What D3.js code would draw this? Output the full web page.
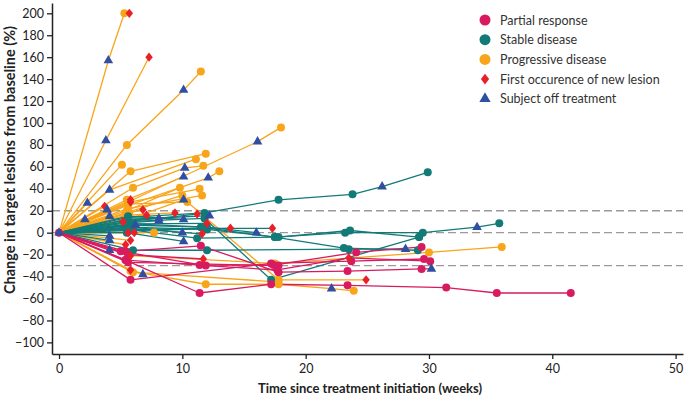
<!DOCTYPE html>
<html>
<head>
<meta charset="utf-8">
<script src="https://cdn.jsdelivr.net/npm/d3@7"></script>
<style>
  html, body { margin: 0; padding: 0; background: #fff; }
  svg { display: block; }
</style>
</head>
<body>
<svg id="chart" width="685" height="400"></svg>
<script>
// ---------------- DATA ----------------
const xTicks = [0, 10, 20, 30, 40, 50];
const yTicks = [-100, -80, -60, -40, -20, 0, 20, 40, 60, 80, 100, 120, 140, 160, 180, 200];
const refLines = [20, 0, -30];

const legendLabels = ["Partial response", "Stable disease", "Progressive disease", "First occurence of new lesion", "Subject off treatment"];

// response per patient: PR = partial response, SD = stable disease, PD = progressive disease
const response = [
  "PD","PD","PD","PD","PD","PD","PD","PD","PD","PD",
  "PD","PD","PD","PD","PD","PD","PD","PD","PD","PD",
  "PD","PD","PD","PD","PD","PD","PD","PD","PD","PD",
  "PD","PD","PD","PD",
  "SD","SD","SD","SD","SD","SD","SD","SD","SD","SD",
  "SD","SD","SD","SD","SD","SD","SD","SD","SD","SD","SD",
  "PR","PR","PR","PR","PR","PR","PR","PR"
];

// weeks since treatment initiation per patient
const weeks = [
  [0,4.0,5.3,5.7],
  [0,3.8,7.3],
  [0,5.5,10.1,11.5],
  [0,5.1],
  [0,5.8,11.9],
  [0,4.1,11.1],
  [0,6.0,10.2,11.7],
  [0,5.5,10.1],
  [0,5.6,12.1,13.0],
  [0,5.5,9.8],
  [0,5.4,10.0],
  [0,5.8,11.4],
  [0,5.6,11.6],
  [0,5.6,16.1,18.0],
  [0,5.5,10.1],
  [0,5.6,10.4,17.8,24.9],
  [0,5.8,11.9,17.8,22.1,23.9],
  [0,5.8,17.5,30.0,35.9],
  [0,7.7],
  [0,3.7],
  [0,5.8],
  [0,5.7,6.8],
  [0,5.5,7.1],
  [0,5.5,9.4],
  [0,2.3],
  [0,2.1],
  [0,3.9],
  [0,4.1,5.2],
  [0,5.8,6.8],
  [0,6.0,17.8],
  [0,5.8],
  [0,5.4],
  [0,5.6],
  [0,6.1],
  // SD
  [0,5.6,11.8,17.8,23.8,26.2,29.9],
  [0,5.5,12.0,17.5,23.2,29.5,33.9,35.7],
  [0,5.5,11.8,17.2,29.2],
  [0,5.6,11.5,17.5,23.1,29.1],
  [0,6.0,12.0,23.5,28.1],
  [0,5.5,11.2,17.8,23.6,29.2],
  [0,6.0,12.0,16.0],
  [0,5.6,10.1],
  [0,5.6,12.2],
  [0,6.0,10.0],
  [0,5.5,11.2],
  [0,5.8,12.0],
  [0,6.2],
  [0,5.5,10.1],
  [0,5.8,13.9],
  [0,5.5,8.1],
  [0,5.6,11.6],
  [0,6.0,11.8,17.3],
  [0,4.1],
  [0,4.1],
  [0,5.5,8.1],
  // PR
  [0,5.4,11.4,17.2,23.4,31.4,35.5,41.5],
  [0,5.8,17.2,23.7,29.6],
  [0,5.4,11.5,17.8,23.4,29.4,30.2],
  [0,5.4,11.4,17.4,24.1,29.4],
  [0,5.0,11.9,17.7,23.5,30.1],
  [0,5.6,11.7],
  [0,4.1],
  [0,5.6,17.8]
];

// % change in target lesions from baseline per patient
const change = [
  [0,157,200,200],
  [0,84,160],
  [0,80,130,147],
  [0,62],
  [0,56,72],
  [0,39,67],
  [0,41,59,61],
  [0,30,51],
  [0,25,50,56],
  [0,20,41],
  [0,18,34],
  [0,28,40],
  [0,22,34],
  [0,28,83,96],
  [0,12,30],
  [0,26,28,-43,-43],
  [0,-35,-47,-47,-51,-53],
  [0,-21,-28,-18,-13],
  [0,0],
  [0,24],
  [0,30],
  [0,18,21],
  [0,14,16],
  [0,16,18],
  [0,27],
  [0,12],
  [0,21],
  [0,15,10],
  [0,-34,-38],
  [0,-36,-45],
  [0,-7],
  [0,-11],
  [0,0],
  [0,0],
  // SD
  [0,14,18,30,35,42,55],
  [0,5,3,-4,0,0,5,8.5],
  [0,10,13,-43,-4],
  [0,7,5,-4,-14,-16],
  [0,-16,-16,-15,-15],
  [0,3,-5,-4,2,-4],
  [0,8,5,0],
  [0,15,12],
  [0,12,15.5],
  [0,5,0],
  [0,10,17],
  [0,8,8.5],
  [0,7],
  [0,0,-8],
  [0,2,4],
  [0,12,13],
  [0,4,-1],
  [0,3,4,4],
  [0,-3],
  [0,-7],
  [0,9,11],
  // PR
  [0,-25,-55,-47,-48,-50,-55,-55],
  [0,-43,-28,-26,-24],
  [0,-17,-12,-36,-35,-33,-33],
  [0,-25,-29.5,-29.5,-18,-13],
  [0,-17,-30,-34,-23,-26],
  [0,-20,-24],
  [0,-16],
  [0,-27,-30]
];

// marker per point: c = circle (response colour), d = new lesion, t = off treatment, n = none
const marks = [
  "ntcd","ntd","nctc","nc","ncc","ntc","nctc","nct","nctc","ncc",
  "ncc","ndc","ncc","nctc","nct","ncccd","nccctc","ndccc","nc","nd",
  "nd","ncd","ncd","ncd","nt","nt","nt","ntd","ndt","ncc",
  "nd","nd","nd","nd",
  "ncccctc","nccccctc","ncccc","nccccc","nccct","nccccc","ncct","nct","nct","nct",
  "ncd","ncd","tt","nct","ncd","nct","ncd","nccd","nt","nt","nct",
  "cccccccc","ncccc","nccccct","nccccc","ncccdc","ncd","nt","ncc"
];

// ---------------- STYLE ----------------
const colors = { PR: "#d81b60", SD: "#127b78", PD: "#f9a51b", lesion: "#e8202a", off: "#2f4fa2" };

const svg = d3.select("#chart");
const x = d3.scaleLinear().domain([-0.57, 50.6]).range([52, 683]);
const y = d3.scaleLinear().domain([-110.6, 209.4]).range([354, 3]);

// reference dashed lines
svg.append("g").selectAll("line").data(refLines).join("line")
  .attr("x1", 52).attr("x2", 683)
  .attr("y1", d => y(d)).attr("y2", d => y(d))
  .attr("stroke", "#9a9a9a").attr("stroke-width", 1.3)
  .attr("stroke-dasharray", "8,4");

// build patients
const patients = response.map((r, i) => ({
  r,
  pts: weeks[i].map((w, j) => ({ w, v: change[i][j], m: marks[i][j] || "n" }))
}));

const line = d3.line().x(d => x(d.w)).y(d => y(d.v));
const gl = svg.append("g");
patients.forEach(p => {
  gl.append("path").attr("d", line(p.pts))
    .attr("fill", "none").attr("stroke", colors[p.r])
    .attr("stroke-width", 1.3).attr("stroke-linejoin", "round");
});

const allPts = [];
patients.forEach(p => p.pts.forEach(q => allPts.push({ ...q, r: p.r })));

svg.append("g").selectAll("circle").data(allPts.filter(d => d.m === "c")).join("circle")
  .attr("cx", d => x(d.w)).attr("cy", d => y(d.v)).attr("r", 4)
  .attr("fill", d => colors[d.r]);

// diamond: rotated square, stretched vertically
const sq = d3.symbol().type(d3.symbolSquare).size(28);
svg.append("g").selectAll("path").data(allPts.filter(d => d.m === "d")).join("path")
  .attr("d", sq)
  .attr("transform", d => `translate(${x(d.w)},${y(d.v)}) scale(1,1.25) rotate(45)`)
  .attr("fill", colors.lesion);

const tri = d3.symbol().type(d3.symbolTriangle).size(40);
svg.append("g").selectAll("path").data(allPts.filter(d => d.m === "t")).join("path")
  .attr("d", tri)
  .attr("transform", d => `translate(${x(d.w)},${y(d.v)})`)
  .attr("fill", colors.off);

// axes
const font = "Lato, 'Open Sans', sans-serif";
const yAxis = svg.append("g").attr("transform", "translate(52,0)")
  .call(d3.axisLeft(y).tickValues(yTicks).tickSize(5).tickPadding(3).tickSizeOuter(0));
const xAxis = svg.append("g").attr("transform", "translate(0,354)")
  .call(d3.axisBottom(x).tickValues(xTicks).tickSize(5).tickPadding(5).tickSizeOuter(0));
[yAxis, xAxis].forEach(a => {
  a.select(".domain").attr("stroke", "#222").attr("stroke-width", 1.5);
  a.selectAll(".tick line").attr("stroke", "#222").attr("stroke-width", 1.3);
  a.selectAll("text").attr("font-family", font).attr("font-size", 12.5).attr("fill", "#222");
});

// axis titles
svg.append("text").attr("x", 370).attr("y", 393).attr("text-anchor", "middle")
  .attr("font-family", font).attr("font-weight", "bold").attr("font-size", 13).attr("fill", "#222")
  .text("Time since treatment initiation (weeks)");
svg.append("text").attr("transform", "translate(15,160) rotate(-90)").attr("text-anchor", "middle")
  .attr("font-family", font).attr("font-weight", "bold").attr("font-size", 14.5).attr("fill", "#222")
  .text("Change in target lesions from baseline (%)");

// legend
const lg = svg.append("g");
const legendKeys = ["PR", "SD", "PD", "lesion", "off"];
legendLabels.forEach((lab, i) => {
  const cy = 20 + i * 19.7;
  const k = legendKeys[i];
  if (i < 3) {
    lg.append("circle").attr("cx", 485).attr("cy", cy).attr("r", 5.5).attr("fill", colors[k]);
  } else if (i === 3) {
    lg.append("path").attr("d", d3.symbol().type(d3.symbolSquare).size(34))
      .attr("transform", `translate(485,${cy}) scale(1,1.3) rotate(45)`).attr("fill", colors[k]);
  } else {
    lg.append("path").attr("d", d3.symbol().type(d3.symbolTriangle).size(55)).attr("transform", `translate(485,${cy})`).attr("fill", colors[k]);
  }
  lg.append("text").attr("x", 500).attr("y", cy + 4.5)
    .attr("font-family", font).attr("font-size", 12.5).attr("fill", "#333").text(lab);
});
</script>
</body>
</html>
